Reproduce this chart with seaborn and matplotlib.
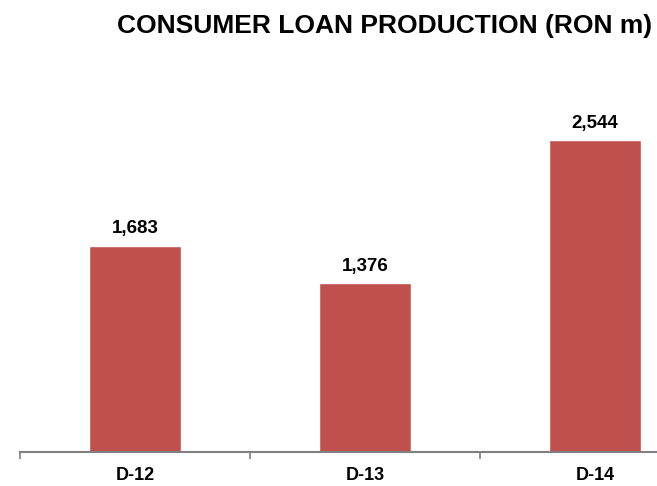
import matplotlib
matplotlib.use("Agg")
import matplotlib.pyplot as plt
import seaborn as sns
import pandas as pd

categories = ["D-12", "D-13", "D-14"]
values = [1683, 1376, 2544]
title = "CONSUMER LOAN PRODUCTION (RON m)"

sns.set_theme(style="white")
plt.rcParams["font.family"] = ["Liberation Sans", "DejaVu Sans"]

W, H = 657, 486
fig = plt.figure(figsize=(W / 100, H / 100), dpi=100)
left_px, base_px, unit_px = 20, 452, 230
ymax = 3000
ax_h_px = ymax * 0.1225
ax = fig.add_axes([left_px / W, (H - base_px) / H, (W - left_px) / W, ax_h_px / H])

df = pd.DataFrame({"period": categories, "value": values})
sns.barplot(data=df, x="period", y="value", color="#C0504D", width=0.4,
            saturation=1, ax=ax)

for i, v in enumerate(values):
    ax.annotate(f"{v:,}", (i, v), xytext=(0, 6), textcoords="offset points",
                ha="center", va="bottom", fontsize=13.5, fontweight="bold",
                color="black")

for s in ["top", "right", "left"]:
    ax.spines[s].set_visible(False)
ax.spines["bottom"].set_color("#808080")
ax.spines["bottom"].set_linewidth(1.5)
ax.set_yticks([])
ax.set_xlabel("")
ax.set_ylabel("")
ax.set_xticks(range(len(categories)))
ax.set_xticklabels(categories, fontsize=13, fontweight="bold", color="black")
ax.tick_params(axis="x", which="major", length=0, pad=11)
ax.set_xticks([-0.5, 0.5, 1.5, 2.5], minor=True)
ax.tick_params(axis="x", which="minor", length=5, width=1.2, color="#808080",
               direction="out", bottom=True)

# category slots 230 px wide; the axis runs off the right edge
ax.set_xlim(-0.5, -0.5 + (W - left_px) / unit_px)
ax.set_ylim(0, ymax)

fig.text(385 / W, 1 - 33 / H, title, ha="center", va="baseline",
         fontsize=19, fontweight="bold", color="black")

fig.savefig("out.png", dpi=100)
